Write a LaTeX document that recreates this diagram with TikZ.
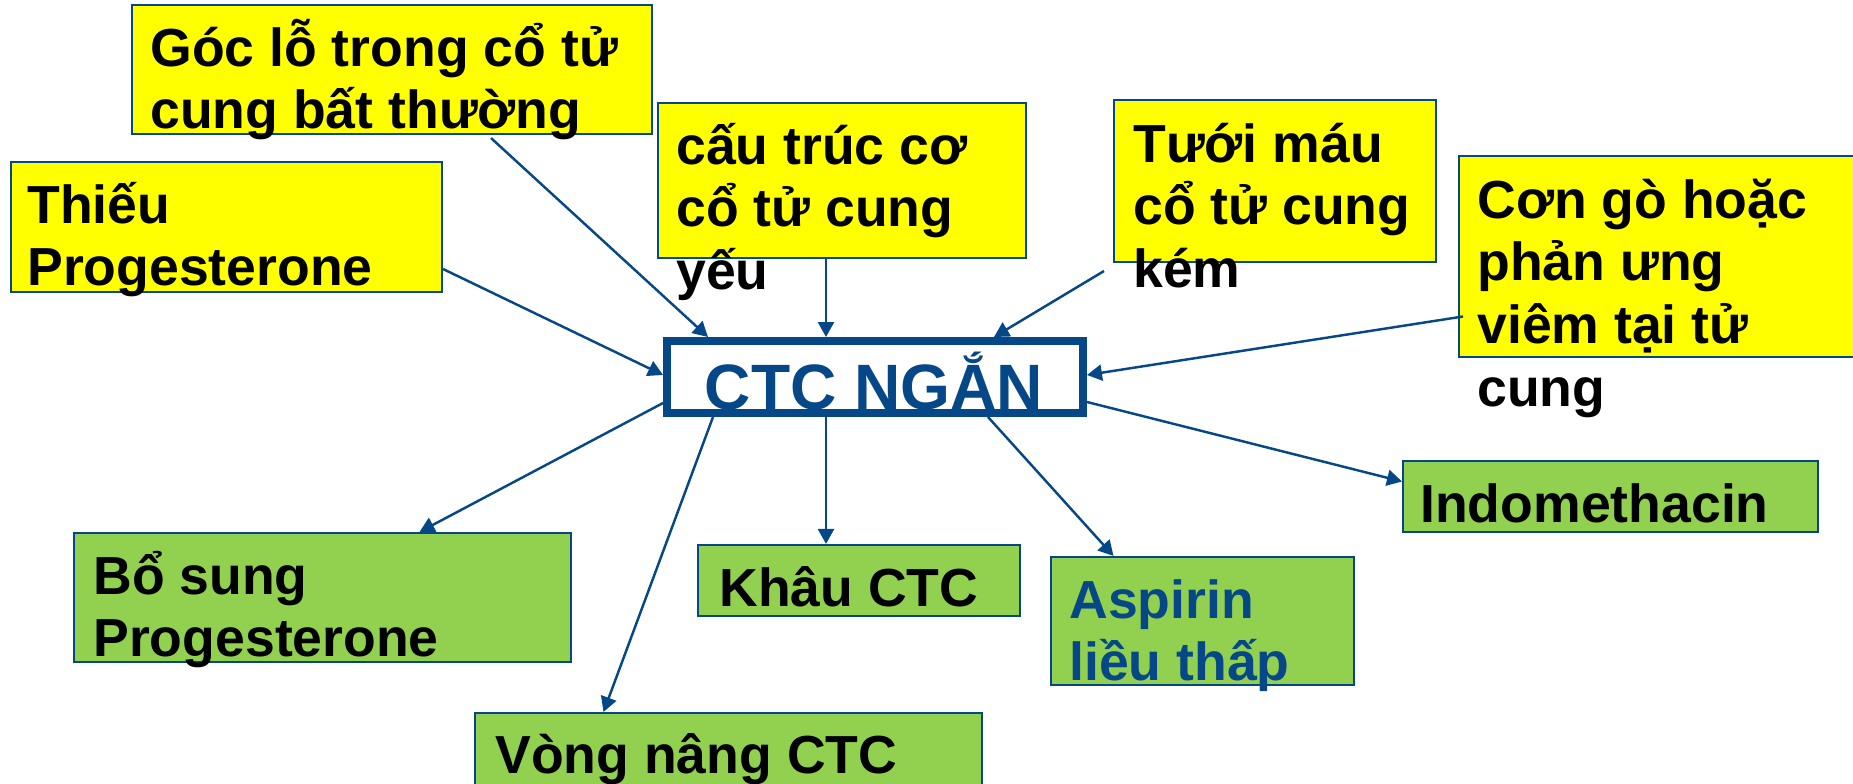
\documentclass[tikz,border=0pt]{standalone}
\usepackage{fontspec}
\setmainfont{Liberation Sans}
\usepackage{tikz}
\usetikzlibrary{arrows.meta, calc}
\definecolor{myblue}{RGB}{6,72,135}
\definecolor{myyellow}{RGB}{255,255,0}
\definecolor{mygreen}{RGB}{146,208,80}
\tikzset{
  causebox/.style={rectangle, draw=myblue, fill=myyellow, inner sep=0pt,
    line width=1.2pt},
  treatbox/.style={rectangle, draw=myblue, fill=mygreen, inner sep=0pt,
    line width=1.2pt},
  mainbox/.style={rectangle, draw=myblue, fill=white, inner sep=0pt,
    line width=0.16cm, minimum width=8.32cm, minimum height=1.44cm},
  lbl/.style={anchor=north west, inner sep=0pt, align=left,
    font=\fontsize{30.5}{35.8}\selectfont\bfseries},
  arrow/.style={-{Triangle[length=0.3cm, width=0.32cm]}, line width=1.4pt,
    color=myblue}
}
\newcommand{\fl}{\rule{0pt}{30pt}}

\begin{document}
\begin{tikzpicture}[x=0.02cm, y=-0.02cm]
  \path[use as bounding box, clip] (0,0) rectangle (1853,784);

  % Causes
  \node[causebox, minimum width=10.4cm, minimum height=2.58cm] (goc) at (392, 69.5) {};
  \node[causebox, minimum width=8.62cm, minimum height=2.6cm] (thieu) at (226.5, 227) {};
  \node[causebox, minimum width=7.36cm, minimum height=3.1cm] (cautruc) at (842, 180.5) {};
  \node[causebox, minimum width=6.44cm, minimum height=3.24cm] (tuoi) at (1275, 181) {};
  \node[causebox, minimum width=8.42cm, minimum height=4.02cm] (congo) at (1669.5, 256.5) {};

  % Main box
  \node[mainbox] (ctc) at (875, 377) {};

  % Treatments
  \node[treatbox, minimum width=9.94cm, minimum height=2.58cm] (bosung) at (322.5, 597.5) {};
  \node[treatbox, minimum width=6.44cm, minimum height=1.42cm] (khau) at (859, 580.5) {};
  \node[treatbox, minimum width=6.06cm, minimum height=2.56cm] (aspirin) at (1202.5, 621) {};
  \node[treatbox, minimum width=8.3cm, minimum height=1.42cm] (indo) at (1610.5, 496.5) {};
  \node[treatbox, minimum width=10.14cm, minimum height=1.74cm] (vong) at (728.5, 756.5) {};

  % Texts
  \node[lbl] (goc-t) at ($(goc.north west)+(19,9)$) {\fl Góc lỗ trong cổ tử\\cung bất thường};
  \node[lbl] (thieu-t) at ($(thieu.north west)+(17,9)$) {\fl Thiếu\\Progesterone};
  \node[lbl] (cautruc-t) at ($(cautruc.north west)+(19,9)$) {\fl cấu trúc cơ\\cổ tử cung\\yếu};
  \node[lbl] (tuoi-t) at ($(tuoi.north west)+(20,10)$) {\fl Tưới máu\\cổ tử cung\\kém};
  \node[lbl] (congo-t) at ($(congo.north west)+(19,10)$) {\fl Cơn gò hoặc\\phản ưng\\viêm tại tử\\cung};
  \node[anchor=base, inner sep=0pt, text=myblue,
    font=\fontsize{36.5}{42}\selectfont\bfseries] (ctc-t) at (874, 409) {CTC NGẮN};
  \node[lbl] (bosung-t) at ($(bosung.north west)+(20,9)$) {\fl Bổ sung\\Progesterone};
  \node[lbl] (khau-t) at ($(khau.north west)+(22,9)$) {\fl Khâu CTC};
  \node[lbl, text=myblue] (aspirin-t) at ($(aspirin.north west)+(19,9)$) {\fl Aspirin\\liều thấp};
  \node[lbl] (indo-t) at ($(indo.north west)+(18,9)$) {\fl Indomethacin};
  \node[lbl] (vong-t) at ($(vong.north west)+(21,8)$) {\fl Vòng nâng CTC};

  % Connections in
  \draw[arrow] ($(goc.south)+(99,3)$) -- ($(ctc.north)+(-167,0)$);
  \draw[arrow] ($(thieu.east)+(0,42)$) -- ($(ctc.west)+(0,-2)$);
  \draw[arrow] ($(cautruc.south)+(-16,0)$) -- ($(ctc.north)+(-49,0)$);
  \draw[arrow] ($(tuoi.south west)+(-9,8)$) -- ($(ctc.north)+(119,0)$);
  \draw[arrow] ($(congo.west)+(5,60)$) -- ($(ctc.east)+(0,-2)$);

  % Connections out
  \draw[arrow] ($(ctc.west)+(0,26)$) -- ($(bosung.north)+(97,0)$);
  \draw[arrow] ($(ctc.south)+(-162,0)$) -- ($(vong.north)+(-125,0)$);
  \draw[arrow] ($(ctc.south)+(-49,0)$) -- ($(khau.north)+(-33,0)$);
  \draw[arrow] ($(ctc.south)+(113,0)$) -- ($(aspirin.north)+(-89,0)$);
  \draw[arrow] ($(ctc.east)+(0,25)$) -- ($(indo.west)+(0,-15)$);
\end{tikzpicture}
\end{document}
